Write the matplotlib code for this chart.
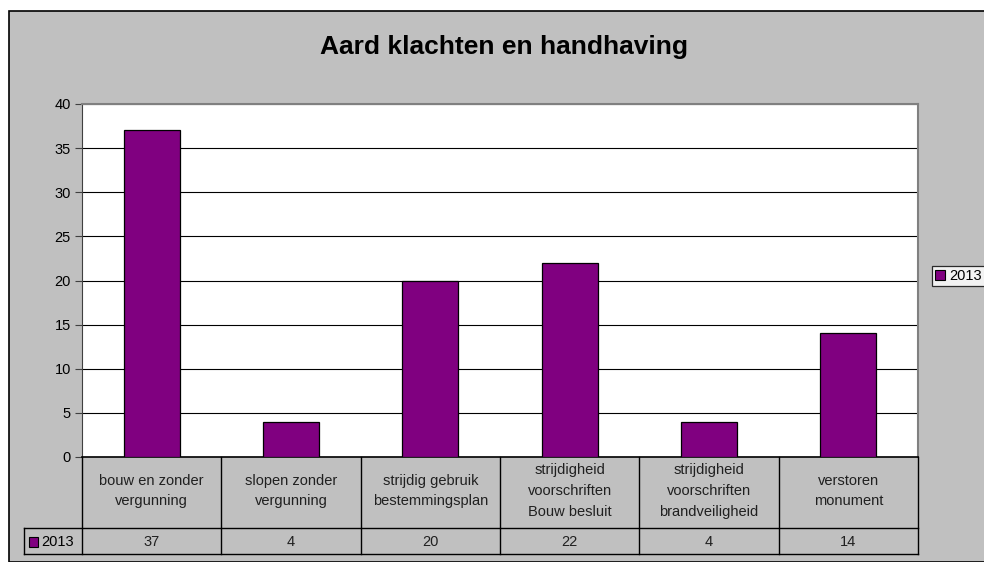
import matplotlib.pyplot as plt
import matplotlib.transforms as mtransforms
from matplotlib.patches import Rectangle

categories = ['bouw en zonder\nvergunning', 'slopen zonder\nvergunning',
              'strijdig gebruik\nbestemmingsplan',
              'strijdigheid\nvoorschriften\nBouw besluit',
              'strijdigheid\nvoorschriften\nbrandveiligheid',
              'verstoren\nmonument']
values_2013 = [37, 4, 20, 22, 4, 14]
series_name = '2013'
yticks = [0, 5, 10, 15, 20, 25, 30, 35, 40]

purple = '#800080'
grey = '#C0C0C0'
plt.rcParams['font.family'] = ['Liberation Sans', 'DejaVu Sans']

W, H = 984, 562
fig = plt.figure(figsize=(W / 100, H / 100), dpi=100)
fig.patch.set_facecolor('white')

# chart area (grey background with black border)
fig.patches.append(Rectangle((9 / W, 0), 1, 1 - 11 / H, transform=fig.transFigure,
                             facecolor=grey, edgecolor='black', linewidth=1.2, zorder=-5))

ax = fig.add_axes([82 / W, (H - 457) / H, (918 - 82) / W, (457 - 104) / H])
ax.set_facecolor('white')
x = list(range(len(categories)))
ax.bar(x, values_2013, width=0.4, color=purple, edgecolor='black', linewidth=0.9, zorder=3)
ax.set_xlim(-0.5, len(categories) - 0.5)
ax.set_ylim(0, 40)
ax.set_yticks(yticks)
ax.set_yticklabels([str(t) for t in yticks], fontsize=10.5)
ax.tick_params(axis='y', length=5, width=0.8, color='#404040', pad=3)
ax.set_xticks([])
ax.yaxis.grid(True, color='black', linewidth=0.8, zorder=1)
ax.set_axisbelow(True)
for side in ['top', 'right']:
    ax.spines[side].set_color('#808080')
    ax.spines[side].set_linewidth(1.5)
ax.spines['left'].set_color('#404040')
ax.spines['bottom'].set_color('black')
ax.spines['bottom'].set_linewidth(1.2)

fig.text(504 / W, 1 - 47 / H, 'Aard klachten en handhaving', ha='center', va='center',
         fontsize=19, fontweight='bold')

# data table below the axes
tr = mtransforms.blended_transform_factory(ax.transData, ax.transAxes)
px = 1 / 353  # one pixel in axes y units
y_mid = -71 * px
y_bot = -97 * px
n = len(categories)
lkw = dict(color='black', linewidth=1.0, clip_on=False, zorder=5)
for i in range(n + 1):
    ax.plot([i - 0.5, i - 0.5], [0, y_bot], transform=tr, **lkw)
left_x = -0.5 - 58 / 139.33
ax.plot([left_x, n - 0.5], [y_mid, y_mid], transform=tr, **lkw)
ax.plot([left_x, n - 0.5], [y_bot, y_bot], transform=tr, **lkw)
ax.plot([left_x, left_x], [y_mid, y_bot], transform=tr, **lkw)
for i, (cat, v) in enumerate(zip(categories, values_2013)):
    ax.text(i, -34 * px, cat, transform=tr, ha='center', va='center', fontsize=10.5,
            linespacing=1.6, color='#202020')
    ax.text(i, -85 * px, str(v), transform=tr, ha='center', va='center', fontsize=10.5,
            color='#202020')
ax.add_patch(Rectangle((left_x + 5 / 139.33, -90 * px), 9 / 139.33, 10 * px, transform=tr,
                       facecolor=purple, edgecolor='black', linewidth=0.8, clip_on=False, zorder=6))
ax.text(left_x + 17 / 139.33, -85 * px, series_name, transform=tr, ha='left', va='center',
        fontsize=10.5)

# legend on the right
leg = ax.legend([Rectangle((0, 0), 1, 1, facecolor=purple, edgecolor='black', linewidth=0.8)],
                [series_name], loc='center left', bbox_to_anchor=(932 / W, 1 - 276 / H),
                bbox_transform=fig.transFigure, fontsize=10.5, frameon=True, fancybox=False,
                handlelength=0.7, handleheight=0.7, handletextpad=0.3, borderpad=0.2,
                borderaxespad=0)
leg.get_frame().set_edgecolor('black')
leg.get_frame().set_linewidth(0.9)

fig.savefig('out.png', dpi=100)
